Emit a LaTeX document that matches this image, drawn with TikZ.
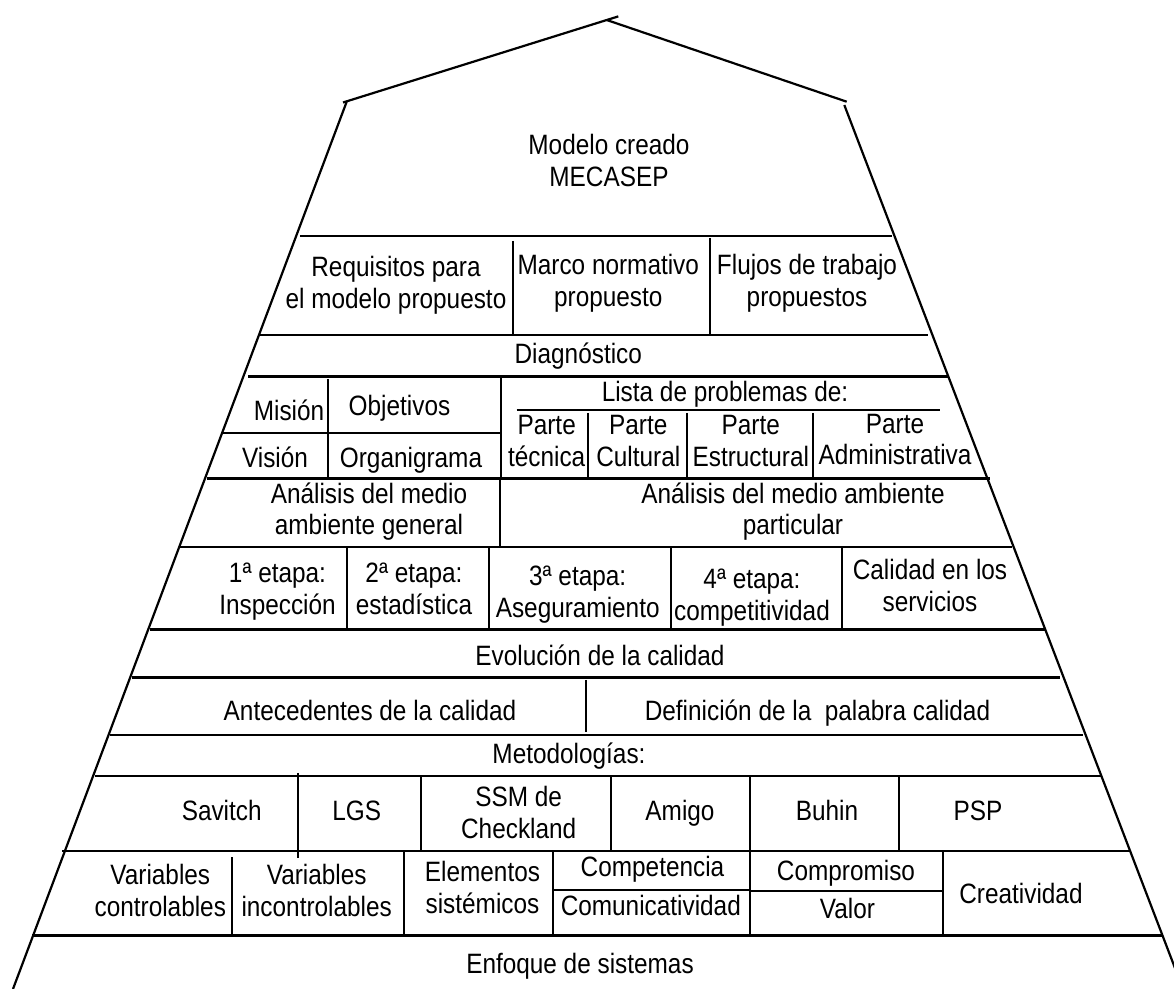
\documentclass[tikz,border=0pt]{standalone}
\usepackage{fontspec}
\setmainfont{Liberation Sans}[FakeStretch=0.87]
% two struted lines, so every two-line label has the same box
\newcommand\tln[2]{\strut#1\\\strut#2}
\begin{document}
\begin{tikzpicture}[x=0.5pt,y=-0.5pt,
  wall/.style={line width=1.1pt},
  rule/.style={line width=1.3pt},
  sep/.style={line width=1pt},
  lbl/.style={align=center,inner sep=0pt,font=\fontsize{14}{15.85}\selectfont}]
\useasboundingbox (0,0) rectangle (1174,989);

% roof and walls
\draw[wall] (343,102.5) -- (618.3,16.4);
\draw[wall] (606.7,20) -- (846.7,101.7);
\draw[wall] (346.7,101.7) -- (13,989);
\draw[wall] (844.3,105) -- (1183,989);

% floors
\draw[rule] (300,236) -- (891.7,236);
\draw[rule] (260,335) -- (928,335);
\draw[rule] (248,376.7) -- (948,376.7);
\draw[rule] (207,478.3) -- (990,478.3);
\draw[rule] (180,547) -- (1011.7,547);
\draw[rule] (150,629.5) -- (1045,629.5);
\draw[rule] (132,677.7) -- (1060,677.7);
\draw[rule] (110,735) -- (1083,735);
\draw[rule] (95,776) -- (1101.7,776);
\draw[rule] (62,851) -- (1130,851);
\draw[rule] (32,935.5) -- (1161.7,935.5);

% inner divisions
\draw[sep] (513.3,241) -- (513.3,335);
\draw[sep] (709.5,238) -- (709.5,336);
\draw[sep] (223,433.3) -- (501.7,433.3);
\draw[sep] (328,379) -- (328,478.3);
\draw[sep] (500.5,377) -- (500.5,480);
\draw[sep] (516.7,410) -- (940,410);
\foreach \x in {588.3,686.7,813.3} \draw[sep] (\x,413) -- (\x,478.3);
\draw[sep] (500,478.3) -- (500,547);
\foreach \x in {346.7,489.3,670.7,841.7} \draw[sep] (\x,547) -- (\x,629.5);
\draw[sep] (586,680) -- (586,732);
\draw[sep] (297.5,773) -- (297.5,858);
\foreach \x in {420.7,611,750,898.5} \draw[sep] (\x,776) -- (\x,851);
\draw[sep] (231.7,857) -- (231.7,937);
\foreach \x in {404,552.7,750,943.3} \draw[sep] (\x,851) -- (\x,935.5);
\draw[sep] (552.7,890) -- (750,890);
\draw[sep] (750,891) -- (943.3,891);

% labels
\node[lbl] (modelo) at (609,164.5) {\tln{Modelo creado}{MECASEP}};
\node[lbl] (requisitos) at (396,286.2) {\tln{Requisitos para}{el modelo propuesto}};
\node[lbl] (marco) at (608.3,284.5) {\tln{Marco normativo}{propuesto}};
\node[lbl] (flujos) at (807,284.5) {\tln{Flujos de trabajo}{propuestos}};
\node[lbl] (diag) at (578.3,357) {\strut Diagnóstico};
\node[lbl] (mision) at (289,413.7) {\strut Misión};
\node[lbl] (vision) at (275,460.7) {\strut Visión};
\node[lbl] (objetivos) at (399.5,408.7) {\strut Objetivos};
\node[lbl] (organigrama) at (411,460.7) {\strut Organigrama};
\node[lbl] (lista) at (725,395.3) {\strut Lista de problemas de:};
\node[lbl] (ptec) at (546.7,444.5) {\tln{Parte}{técnica}};
\node[lbl] (pcul) at (638.3,444.5) {\tln{Parte}{Cultural}};
\node[lbl] (pest) at (750.8,444.5) {\tln{Parte}{Estructural}};
\node[lbl] (padm) at (895,442.8) {\tln{Parte}{Administrativa}};
\node[lbl] (amgen) at (369,512.8) {\tln{Análisis del medio}{ambiente general}};
\node[lbl] (ampar) at (793,512.8) {\tln{Análisis del medio ambiente}{particular}};
\node[lbl] (et1) at (277.5,592) {\tln{1ª etapa:}{Inspección}};
\node[lbl] (et2) at (414,592) {\tln{2ª etapa:}{estadística}};
\node[lbl] (et3) at (577.7,595) {\tln{3ª etapa:}{Aseguramiento}};
\node[lbl] (et4) at (752,598) {\tln{4ª etapa:}{competitividad}};
\node[lbl] (serv) at (930,589) {\tln{Calidad en los}{servicios}};
\node[lbl] (evol) at (600,658.7) {\strut Evolución de la calidad};
\node[lbl] (antec) at (370,713.7) {\strut Antecedentes de la calidad};
\node[lbl] (defin) at (817.5,713.7) {\strut Definición de la\ \ palabra calidad};
\node[lbl] (metod) at (569,756.7) {\strut Metodologías:};
\node[lbl] (savitch) at (221.7,813.7) {\strut Savitch};
\node[lbl] (lgs) at (356.7,813.7) {\strut LGS};
\node[lbl] (ssm) at (518.7,816.2) {\tln{SSM de}{Checkland}};
\node[lbl] (amigo) at (680,813.7) {\strut Amigo};
\node[lbl] (buhin) at (827,813.7) {\strut Buhin};
\node[lbl] (psp) at (978,813.7) {\strut PSP};
\node[lbl] (varc) at (160.3,894.5) {\tln{Variables}{controlables}};
\node[lbl] (vari) at (316.7,894.5) {\tln{Variables}{incontrolables}};
\node[lbl] (elem) at (482.5,891.2) {\tln{Elementos}{sistémicos}};
\node[lbl] (compet) at (652.5,870.4) {\strut Competencia};
\node[lbl] (comun) at (650.8,908.7) {\strut Comunicatividad};
\node[lbl] (compro) at (846,873.7) {\strut Compromiso};
\node[lbl] (valor) at (847.5,912) {\strut Valor};
\node[lbl] (creat) at (1021,897) {\strut Creatividad};
\node[lbl] (enfoque) at (580,967) {\strut Enfoque de sistemas};
\end{tikzpicture}
\end{document}
